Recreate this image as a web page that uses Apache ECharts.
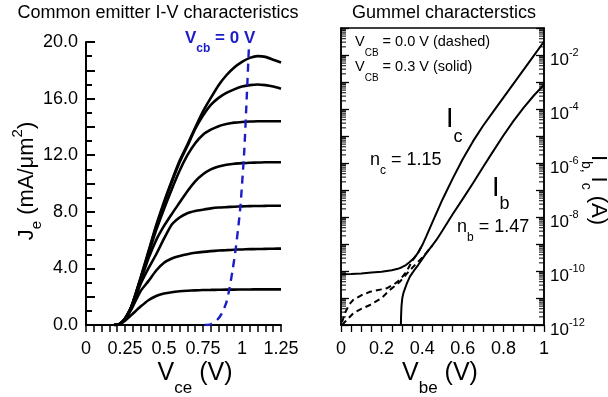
<!DOCTYPE html>
<html>
<head>
<meta charset="utf-8">
<script src="https://cdn.jsdelivr.net/npm/echarts@6/dist/echarts.min.js"></script>
<style>
  html, body { margin: 0; padding: 0; background: #fff; }
  #chart { width: 608px; height: 397px; }
</style>
</head>
<body>
<div id="chart"></div>
<script>
// ---- Common emitter output curves: J_e (mA/um^2) vs V_ce (V) ----
const vce = [0.18, 0.2, 0.22, 0.25, 0.28, 0.3, 0.35, 0.4, 0.45, 0.5, 0.55, 0.6, 0.65,
             0.7, 0.75, 0.8, 0.85, 0.9, 0.95, 1.0, 1.05, 1.1, 1.15, 1.2, 1.25];
const je1 = [0, 0.02, 0.08, 0.3, 0.6, 0.8, 1.3, 1.75, 2.05, 2.22, 2.32, 2.38, 2.42,
             2.45, 2.47, 2.48, 2.49, 2.5, 2.5, 2.51, 2.51, 2.52, 2.52, 2.52, 2.52];
const je2 = [0, 0.02, 0.1, 0.4, 0.9, 1.3, 2.4, 3.1, 3.85, 4.4, 4.7, 4.88, 5.0,
             5.1, 5.17, 5.22, 5.26, 5.29, 5.32, 5.34, 5.36, 5.37, 5.38, 5.39, 5.4];
const je3 = [0, 0.02, 0.1, 0.42, 0.95, 1.45, 2.9, 4.0, 5.0, 6.1, 7.1, 7.6, 7.9,
             8.05, 8.15, 8.24, 8.3, 8.33, 8.36, 8.38, 8.4, 8.41, 8.42, 8.43, 8.43];
const je4 = [0, 0.02, 0.1, 0.44, 1.0, 1.5, 3.1, 4.7, 6.0, 7.0, 7.85, 8.65, 9.45,
             10.15, 10.65, 11.0, 11.2, 11.32, 11.4, 11.44, 11.47, 11.48, 11.5, 11.5, 11.5];
const je5 = [0, 0.02, 0.1, 0.45, 1.02, 1.55, 3.25, 5.0, 6.7, 8.2, 9.6, 10.9, 12.0,
             12.85, 13.45, 13.8, 14.05, 14.2, 14.3, 14.35, 14.38, 14.4, 14.4, 14.4, 14.4];
const je6 = [0, 0.02, 0.1, 0.45, 1.03, 1.58, 3.3, 5.1, 6.95, 8.6, 10.1, 11.5, 12.65,
             13.85, 14.8, 15.55, 16.05, 16.4, 16.65, 16.85, 16.95, 17.0, 16.95, 16.85, 16.7];
const je7 = [0, 0.02, 0.1, 0.46, 1.05, 1.6, 3.35, 5.2, 7.05, 8.7, 10.2, 11.6, 12.75,
             13.95, 15.1, 16.05, 16.95, 17.65, 18.2, 18.6, 18.88, 19.0, 18.95, 18.75, 18.55];
const jeCurves = [je1, je2, je3, je4, je5, je6, je7];

// Locus of V_cb = 0 across the family
const vcbZeroVce = [0.76, 0.8, 0.84, 0.87, 0.9, 0.92, 0.94, 0.96, 0.98, 0.99, 1.0, 1.015, 1.03, 1.045];
const vcbZeroJe  = [0, 0.05, 0.35, 0.8, 1.6, 2.6, 3.9, 5.4, 7.3, 8.4, 9.9, 12.4, 16.0, 19.8];

const jeTicks = [0, 4, 8, 12, 16, 20];
const vceTicks = [0, 0.25, 0.5, 0.75, 1, 1.25];

// ---- Gummel plot: log10 of current (A) vs V_be (V) ----
// V_CB = 0.3 V (solid)
const vbeIcSolid = [0, 0.05, 0.1, 0.15, 0.2, 0.25, 0.28, 0.3, 0.32, 0.34, 0.36, 0.38, 0.4,
                    0.42, 0.45, 0.5, 0.55, 0.6, 0.65, 0.7, 0.75, 0.8, 0.85, 0.9, 0.95, 1.0];
const logIcSolid = [-10.12, -10.11, -10.09, -10.06, -10.03, -9.97, -9.92, -9.86, -9.78, -9.66, -9.52, -9.32, -9.05,
                    -8.72, -8.2, -7.35, -6.58, -5.85, -5.2, -4.62, -4.1, -3.58, -3.06, -2.54, -2.02, -1.5];
const vbeIbSolid = [0.295, 0.296, 0.298, 0.302, 0.308, 0.315, 0.325, 0.34, 0.36, 0.38, 0.4, 0.42, 0.45,
                    0.47, 0.5, 0.55, 0.6, 0.65, 0.7, 0.75, 0.8, 0.85, 0.9, 0.95, 1.0];
const logIbSolid = [-12, -11.65, -11.3, -11.0, -10.8, -10.65, -10.45, -10.2, -9.98, -9.78, -9.56, -9.34, -9.05,
                    -8.85, -8.5, -7.9, -7.33, -6.75, -6.15, -5.56, -4.98, -4.44, -3.95, -3.5, -3.1];
// V_CB = 0.0 V (dashed): low-bias part, before it joins the solid curves
const vbeIcDashed = [0.005, 0.02, 0.04, 0.06, 0.1, 0.143, 0.2, 0.225, 0.26, 0.29, 0.32, 0.34, 0.36, 0.38, 0.4];
const logIcDashed = [-11.9, -11.55, -11.25, -11.07, -10.9, -10.77, -10.68, -10.64, -10.5, -10.33, -10.05, -9.78, -9.52, -9.32, -9.05];
const vbeIbDashed = [0.005, 0.02, 0.06, 0.1, 0.143, 0.2, 0.241, 0.29, 0.33, 0.356, 0.388, 0.42, 0.45];
const logIbDashed = [-12.0, -11.88, -11.57, -11.4, -11.26, -11.0, -10.7, -10.4, -10.05, -9.84, -9.6, -9.34, -9.05];

const decadeLabels = [-12, -10, -8, -6, -4, -2];
const vbeTicks = [0, 0.2, 0.4, 0.6, 0.8, 1];

// ---- helpers ----
const FONT = '"Liberation Sans", Arial, Helvetica, sans-serif';
const BLUE = '#1c1cc8';

function pairs(xs, ys) { return xs.map((x, i) => [x, ys[i]]); }

// Rich-text styles: b = main text, s = subscript, u = superscript
function richSet(base, small, dSub, dSup, color, weight) {
  const top = Math.max(0, dSup + small / 2 - base / 2) + 1;
  const c = { fontFamily: FONT, color: color, fill: color, fontWeight: weight || 'normal' };
  return {
    top: top, base: base,
    rich: {
      b: Object.assign({ fontSize: base, lineHeight: base, verticalAlign: 'top', padding: [top, 0, 0, 0] }, c),
      s: Object.assign({ fontSize: small, lineHeight: small, verticalAlign: 'top',
                         padding: [top + base / 2 + dSub - small / 2, 0, 0, 0] }, c),
      u: Object.assign({ fontSize: small, lineHeight: small, verticalAlign: 'top',
                         padding: [Math.max(0, top + base / 2 - dSup - small / 2), 0, 0, 0] }, c)
    }
  };
}

// Text whose main glyph centre line passes through (x, y)
function label(x, y, text, rs, align, rotation) {
  return {
    type: 'text', x: x, y: y, rotation: rotation || 0, silent: true, z: 100,
    style: {
      text: text, x: 0, y: -(rs.top + rs.base / 2),
      align: align || 'left', verticalAlign: 'top',
      rich: rs.rich, fill: rs.rich.b.fill, font: rs.base + 'px ' + FONT
    }
  };
}

const tickLabelRich = richSet(17, 11, 8, 7, '#000');

// Logarithmic minor tick positions for the Gummel axes
const logMinor = [];
for (let n = -12; n < -1; n++) {
  for (let k = 2; k <= 9; k++) logMinor.push([0, n + Math.log10(k)]);
}

const lineBlack = (w, dashed) => ({ color: '#000', width: w, type: dashed ? [6, 4] : 'solid' });

const series = [];
jeCurves.forEach((c) => {
  series.push({
    type: 'line', xAxisIndex: 0, yAxisIndex: 0, data: pairs(vce, c),
    showSymbol: false, smooth: 0.2, lineStyle: lineBlack(2.6, false), z: 3
  });
});
series.push({
  type: 'line', xAxisIndex: 0, yAxisIndex: 0, data: pairs(vcbZeroVce, vcbZeroJe),
  showSymbol: false, smooth: 0.2, lineStyle: { color: BLUE, width: 2.4, type: [8, 6] }, z: 4
});

// Gummel curves
[
  [pairs(vbeIcDashed, logIcDashed), true], [pairs(vbeIbDashed, logIbDashed), true],
  [pairs(vbeIcSolid, logIcSolid), false], [pairs(vbeIbSolid, logIbSolid), false]
].forEach(([d, dashed]) => {
  series.push({
    type: 'line', xAxisIndex: 1, yAxisIndex: 1, data: d, showSymbol: false,
    smooth: false, lineStyle: lineBlack(2, dashed), z: dashed ? 3 : 4
  });
});
series.push({
  type: 'custom', xAxisIndex: 1, yAxisIndex: 1, data: logMinor, silent: true, z: 5,
  clip: false,
  renderItem: function (params, api) {
    const y = api.value(1);
    const pl = api.coord([0, y]);
    const pr = api.coord([1, y]);
    const st = { stroke: '#000', lineWidth: 1 };
    return {
      type: 'group', children: [
        { type: 'line', shape: { x1: pl[0], y1: pl[1], x2: pl[0] + 5, y2: pl[1] }, style: st },
        { type: 'line', shape: { x1: pr[0] - 5, y1: pr[1], x2: pr[0], y2: pr[1] }, style: st }
      ]
    };
  }
});

const axisLine = (w) => ({ show: true, onZero: false, lineStyle: { color: '#000', width: w } });

const option = {
  animation: false,
  backgroundColor: '#fff',
  grid: [
    { left: 86, top: 42, width: 195, height: 283, outerBoundsMode: 'none', containLabel: false },
    { left: 341, top: 28, width: 203, height: 297, outerBoundsMode: 'none', containLabel: false,
      show: true, borderColor: '#000', borderWidth: 1.5, backgroundColor: 'transparent' }
  ],
  xAxis: [
    {
      type: 'value', gridIndex: 0, min: vceTicks[0], max: vceTicks[vceTicks.length - 1], interval: 0.25,
      axisLine: axisLine(2),
      axisTick: { show: true, inside: false, length: 7, lineStyle: { color: '#000', width: 1.5 } },
      minorTick: { show: true, splitNumber: 5, length: 7, lineStyle: { color: '#000', width: 1.5 } },
      axisLabel: { show: true, margin: 15, color: '#000', fontFamily: FONT, fontSize: 18,
                   showMinLabel: true, showMaxLabel: true, hideOverlap: false,
                   formatter: v => String(+v.toFixed(2)) },
      splitLine: { show: false }
    },
    {
      type: 'value', gridIndex: 1, min: vbeTicks[0], max: vbeTicks[vbeTicks.length - 1], interval: 0.2,
      axisLine: axisLine(1.5),
      axisTick: { show: true, inside: false, length: 7, lineStyle: { color: '#000', width: 1.3 } },
      minorTick: { show: true, splitNumber: 4, length: 7, lineStyle: { color: '#000', width: 1.3 } },
      axisLabel: { show: true, margin: 15, color: '#000', fontFamily: FONT, fontSize: 18,
                   showMinLabel: true, showMaxLabel: true, hideOverlap: false,
                   formatter: v => String(+v.toFixed(2)) },
      splitLine: { show: false }
    }
  ],
  yAxis: [
    {
      type: 'value', gridIndex: 0, min: jeTicks[0], max: jeTicks[jeTicks.length - 1], interval: 2,
      axisLine: axisLine(2),
      axisTick: { show: true, inside: true, length: 9, lineStyle: { color: '#000', width: 2 } },
      minorTick: { show: true, splitNumber: 2, length: 6, lineStyle: { color: '#000', width: 2 } },
      axisLabel: { show: true, margin: 8, color: '#000', fontFamily: FONT, fontSize: 18,
                   showMinLabel: true, showMaxLabel: true, hideOverlap: false,
                   formatter: v => (jeTicks.indexOf(Math.round(v)) >= 0 && Math.abs(v - Math.round(v)) < 1e-6) ? v.toFixed(1) : '' },
      splitLine: { show: false }
    },
    {
      type: 'value', gridIndex: 1, position: 'right', min: -12, max: -1, interval: 1,
      axisLine: axisLine(1.5),
      axisTick: { show: true, inside: true, length: 8, lineStyle: { color: '#000', width: 1.3 } },
      axisLabel: { show: true, margin: 6, color: '#000', fontFamily: FONT, fontSize: 17,
                   showMinLabel: true, showMaxLabel: true, hideOverlap: false,
                   rich: tickLabelRich.rich,
                   formatter: v => decadeLabels.indexOf(Math.round(v)) >= 0 ? '{b|10}{u|' + Math.round(v) + '}' : '' },
      splitLine: { show: false }
    },
    {
      type: 'value', gridIndex: 1, position: 'left', min: -12, max: -1, interval: 1,
      axisLine: axisLine(1.5),
      axisTick: { show: true, inside: true, length: 8, lineStyle: { color: '#000', width: 1.3 } },
      axisLabel: { show: false },
      splitLine: { show: false }
    }
  ],
  series: series,
  graphic: [
    { type: 'text', x: 158, y: 13, silent: true,
      style: { text: 'Common emitter I-V characteristics', align: 'center', verticalAlign: 'middle',
               font: '18px ' + FONT, fill: '#000' } },
    { type: 'text', x: 444, y: 13, silent: true,
      style: { text: 'Gummel characterstics', align: 'center', verticalAlign: 'middle',
               font: '18px ' + FONT, fill: '#000' } },
    label(27, 181, '{b|J}{s|e}{b| (mA/μm}{u|2}{b|)}', richSet(22, 15, 10, 9, '#000'), 'center', Math.PI / 2),
    label(195, 373, '{b|V}{s|ce}{b| (V)}', richSet(25, 17, 15, 9, '#000'), 'center'),
    label(440, 373, '{b|V}{s|be}{b| (V)}', richSet(25, 17, 15, 9, '#000'), 'center'),
    label(598, 190, '{b|I}{s|b, }{b|I}{s|c}{b| (A)}', richSet(22, 14, 12, 9, '#000'), 'center', -Math.PI / 2),
    label(185, 38, '{b|V}{s|cb}{b| = 0 V}', richSet(17, 12, 11, 7, BLUE, 'bold'), 'left'),
    label(355, 42, '{b|V}{s|CB}{b| = 0.0 V (dashed)}', richSet(14.5, 10, 11, 7, '#000'), 'left'),
    label(355, 67, '{b|V}{s|CB}{b| = 0.3 V (solid)}', richSet(14.5, 10, 11, 7, '#000'), 'left'),
    label(446, 120, '{b|I}{s|c}', richSet(27, 18, 17, 9, '#000'), 'left'),
    label(370, 160, '{b|n}{s|c}{b| = 1.15}', richSet(18, 12, 11, 7, '#000'), 'left'),
    label(492, 189, '{b|I}{s|b}', richSet(27, 18, 15, 9, '#000'), 'left'),
    label(457, 227, '{b|n}{s|b}{b| = 1.47}', richSet(18, 12, 11, 7, '#000'), 'left')
  ]
};

const chart = echarts.init(document.getElementById('chart'), null, { renderer: 'canvas' });
chart.setOption(option);
</script>
</body>
</html>
